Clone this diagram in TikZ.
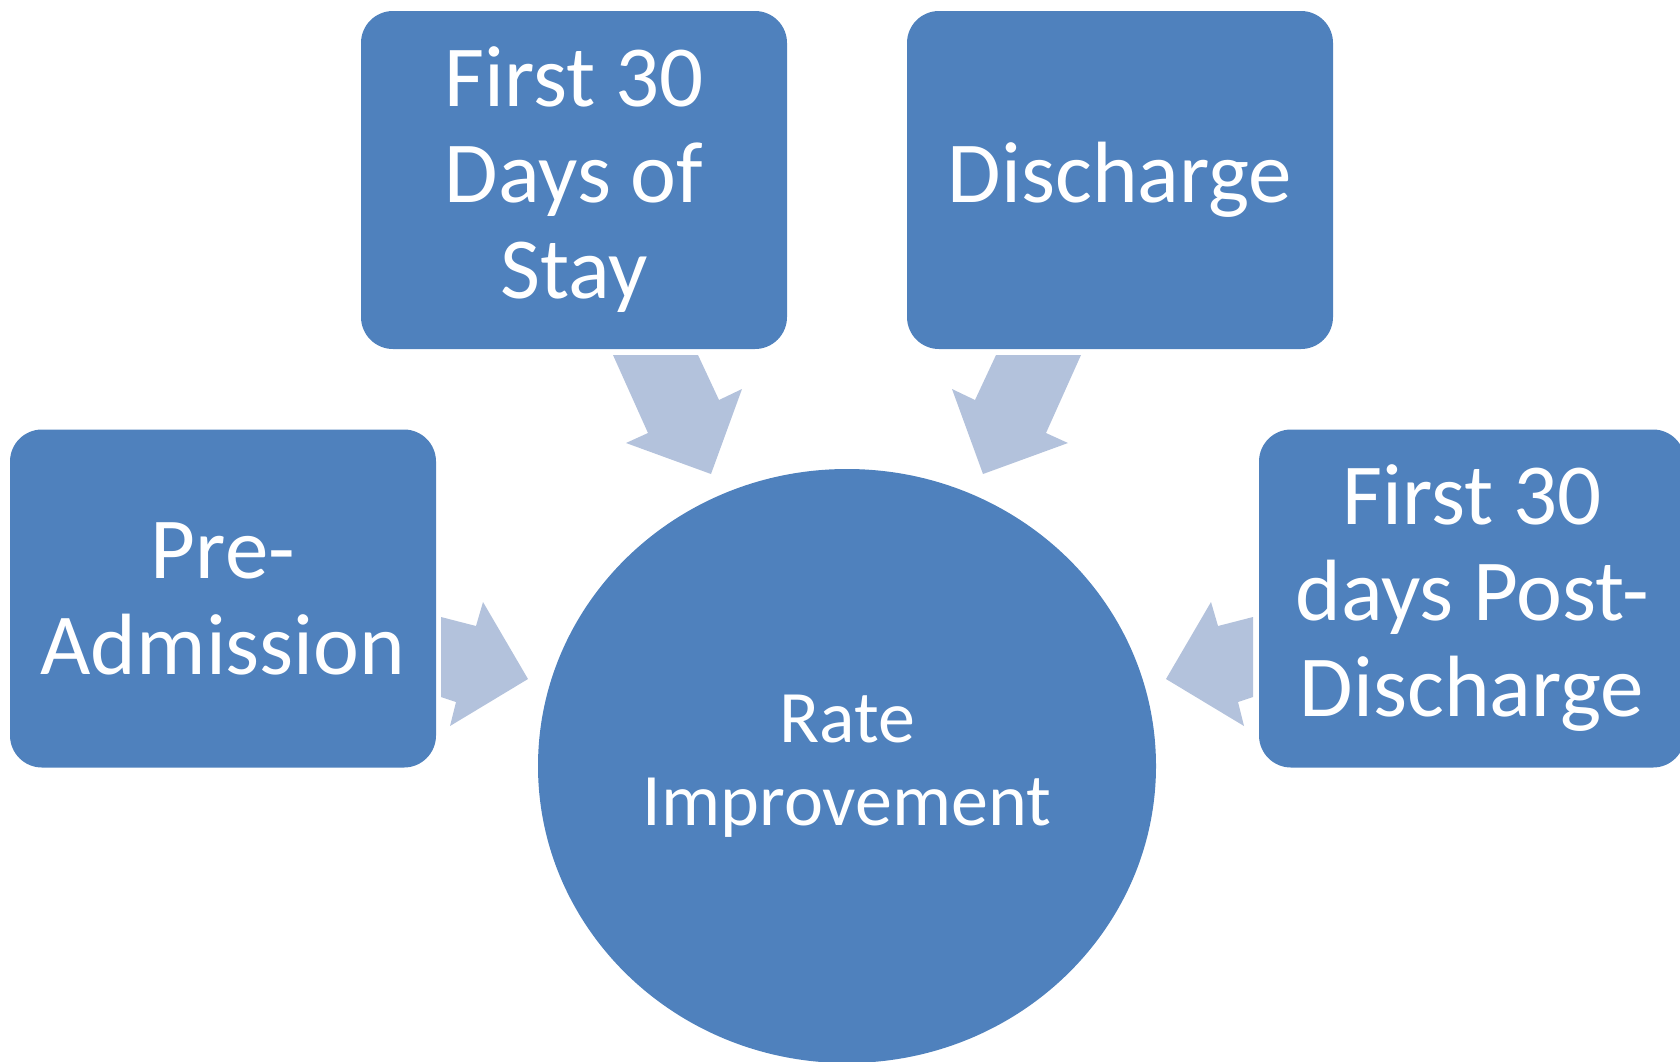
\documentclass[tikz,border=0pt]{standalone}
\usepackage{fontspec}
\setmainfont{Carlito}
\usetikzlibrary{shapes.geometric}
\definecolor{boxblue}{HTML}{4F81BD}
\definecolor{arrowblue}{HTML}{B3C2DC}
\tikzset{
  stage/.style={fill=boxblue, rounded corners=16pt, minimum width=213pt, minimum height=169pt,
    inner sep=0pt, text=white, align=center, font=\fontsize{43.5}{48}\selectfont},
  goal/.style={ellipse, fill=boxblue, minimum width=309pt, minimum height=297pt,
    inner sep=0pt, text=white, align=center, font=\fontsize{37}{41.5}\selectfont},
  push/.style={fill=arrowblue}
}

\begin{document}
\begin{tikzpicture}[x=0.5pt,y=-0.5pt]
\useasboundingbox (0,0) rectangle (1680,1061);
\clip (0,0) rectangle (1680,1061);

\node[goal] (rate) at (847,766) {Rate\\Improvement};

\node[stage] (stay) at (574,180) {First 30\\Days of\\Stay};
\node[stage] (discharge) at (1120,180) {Discharge};
\node[stage] (pre) at (223,598.5) {Pre-\\Admission};
\node[stage] (post) at (1472,598.5) {First 30\\days Post-\\Discharge};

% block arrows pointing to the centre
\fill[push] (613,355) -- (698,355) -- (719,400) -- (742,389) -- (711,474) -- (626,443) -- (648,433) -- cycle;
\fill[push] (1081,355) -- (996,355) -- (975,400) -- (952,389) -- (983,474) -- (1068,443) -- (1046,433) -- cycle;
\fill[push] (441,617) -- (476,626) -- (483,602) -- (528,679) -- (450,726) -- (456,702) -- (441,697) -- cycle;
\fill[push] (1253,617) -- (1218,626) -- (1211,602) -- (1166,679) -- (1244,726) -- (1238,702) -- (1253,697) -- cycle;
\end{tikzpicture}
\end{document}
